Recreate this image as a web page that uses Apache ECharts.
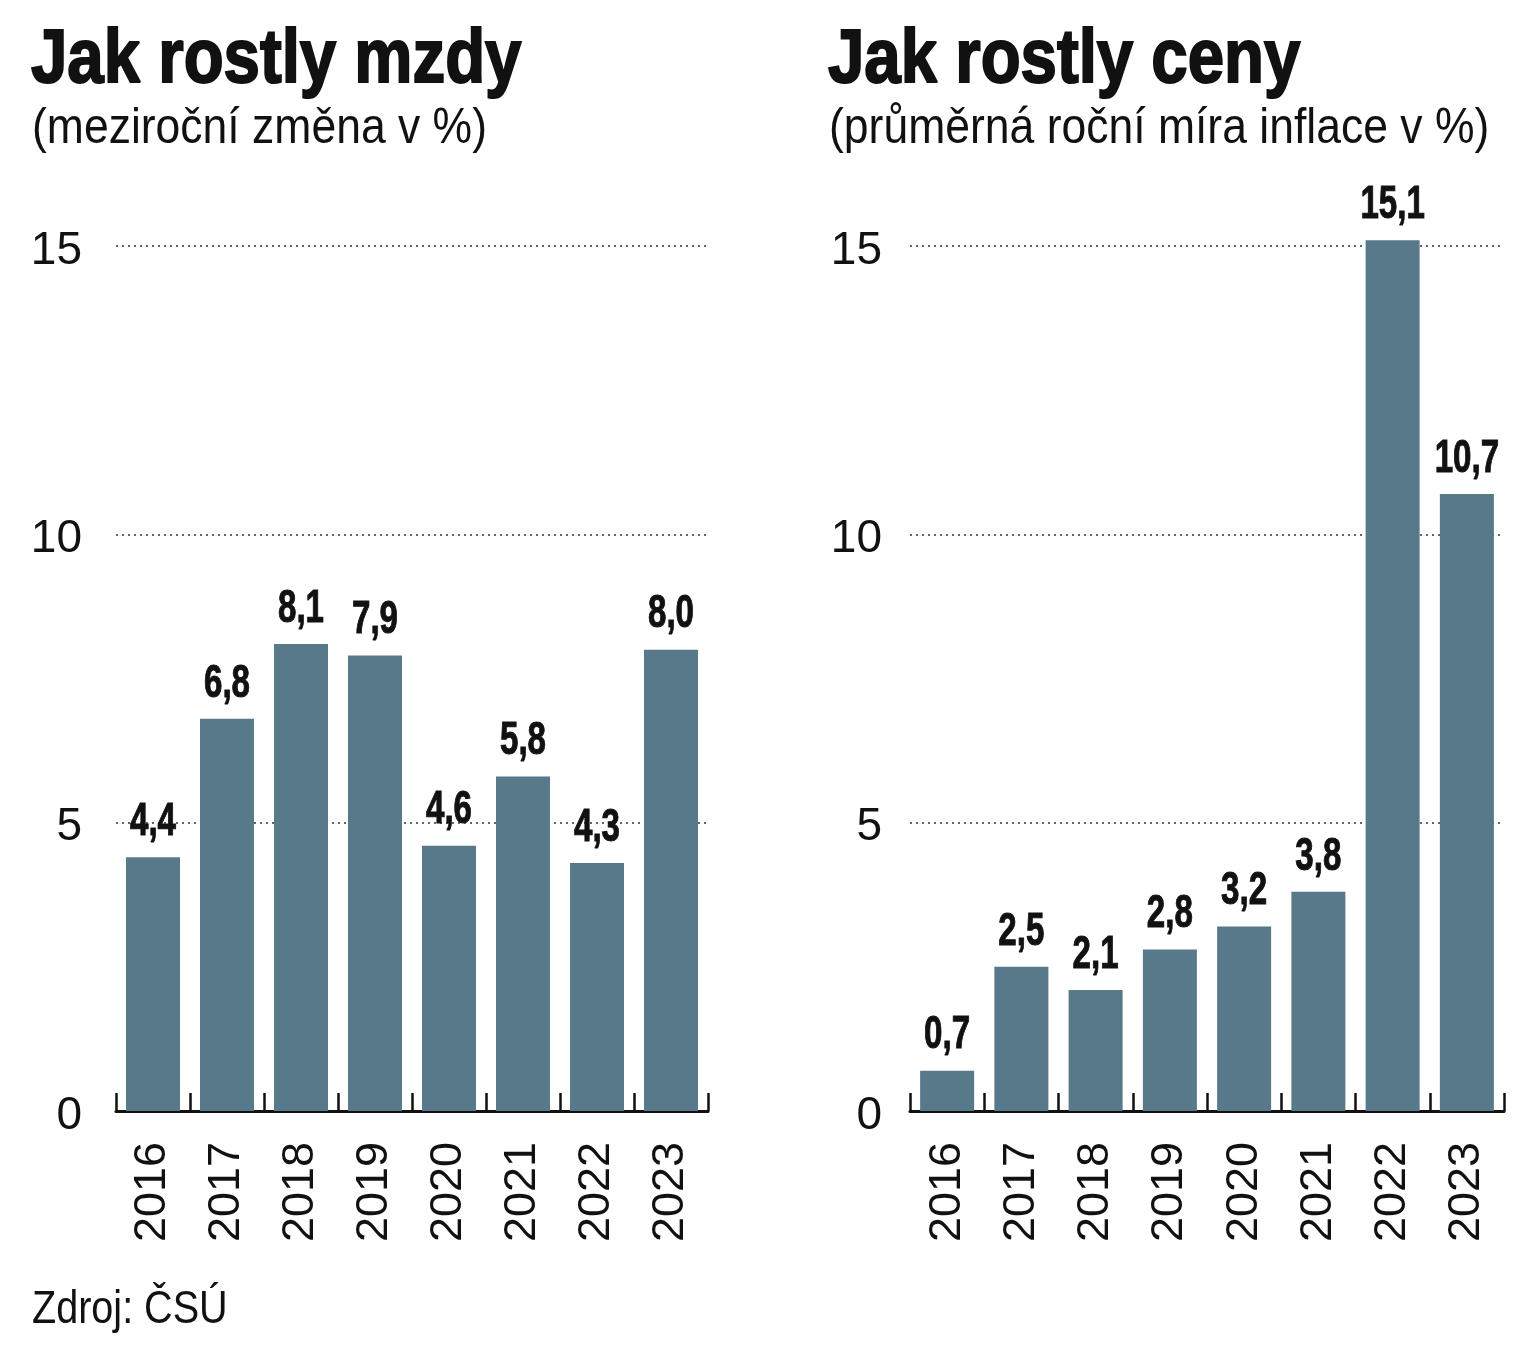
<!DOCTYPE html>
<html>
<head>
<meta charset="utf-8">
<script src="https://cdn.jsdelivr.net/npm/echarts@6/dist/echarts.min.js"></script>
<style>
html,body{margin:0;padding:0;background:#fff;}
#c{width:1536px;height:1360px;}
</style>
</head>
<body>
<div id="c"></div>
<script>
const years = ['2016','2017','2018','2019','2020','2021','2022','2023'];
const wages = [4.4, 6.8, 8.1, 7.9, 4.6, 5.8, 4.3, 8.0];
const prices = [0.7, 2.5, 2.1, 2.8, 3.2, 3.8, 15.1, 10.7];
const yTicks = [0, 5, 10, 15];

const titleLeft = 'Jak rostly mzdy';
const subLeft = '(meziroční změna v %)';
const titleRight = 'Jak rostly ceny';
const subRight = '(průměrná roční míra inflace v %)';
const source = 'Zdroj: ČSÚ';

const FONT = '"Liberation Sans", Arial, Helvetica, sans-serif';
const BAR = '#587989';
const INK = '#111';

const chart = echarts.init(document.getElementById('c'), null, {renderer: 'canvas'});

function xAxis(gi) {
  return {
    type: 'category', gridIndex: gi, data: years,
    axisLine: {show: true, lineStyle: {color: INK, width: 3}},
    axisTick: {show: true, inside: true, length: 18, lineStyle: {color: INK, width: 2.5}},
    axisLabel: {rotate: 90, margin: 31, fontFamily: FONT, fontSize: 45, color: INK}
  };
}
function yAxis(gi, margin) {
  return {
    type: 'value', gridIndex: gi, min: 0, max: 15, interval: 5,
    axisLine: {show: false}, axisTick: {show: false},
    axisLabel: {margin: margin, fontFamily: FONT, fontSize: 46, color: INK,
      verticalAlign: 'top', lineHeight: 10,
      formatter: v => yTicks.includes(v) ? String(v) : ''},
    splitLine: {show: true, lineStyle: {color: '#333', width: 1.5, type: [2, 4]}}
  };
}
function barSeries(i, data) {
  return {
    type: 'bar', xAxisIndex: i, yAxisIndex: i, data: data, barWidth: 54, clip: false,
    itemStyle: {color: BAR}, z: 2
  };
}
function labelSeries(i, data) {
  return {
    type: 'custom', xAxisIndex: i, yAxisIndex: i, clip: false, z: 5,
    data: data.map((v, k) => [k, v]),
    encode: {x: 0, y: 1},
    renderItem: function (params, api) {
      const v = api.value(1);
      const pt = api.coord([api.value(0), v]);
      return {
        type: 'text', x: pt[0], y: pt[1] - 12, scaleX: 0.72,
        style: {
          text: v.toFixed(1).replace('.', ','),
          font: 'bold 46px ' + FONT, fill: INK, stroke: INK, lineWidth: 1,
          align: 'center', verticalAlign: 'bottom'
        }
      };
    }
  };
}
function txt(text, x, y, size, weight, sx, sw) {
  const st = {text: text, font: weight + ' ' + size + 'px ' + FONT, fill: INK, align: 'left', verticalAlign: 'top'};
  if (sw) { st.stroke = INK; st.lineWidth = sw; }
  return {type: 'text', x: x, y: y, scaleX: sx, style: st};
}

chart.setOption({
  animation: false,
  backgroundColor: '#fff',
  graphic: [
    txt(titleLeft, 31, 23, 76, 'bold', 0.86, 2),
    txt(subLeft, 32, 104, 50, 'normal', 0.89),
    txt(titleRight, 828, 23, 76, 'bold', 0.86, 2),
    txt(subRight, 829, 104, 50, 'normal', 0.89),
    txt(source, 32, 1287, 46, 'normal', 0.86)
  ],
  grid: [
    {left: 116, top: 246, width: 592, height: 865, containLabel: false},
    {left: 910, top: 246, width: 594, height: 865, containLabel: false}
  ],
  xAxis: [xAxis(0), xAxis(1)],
  yAxis: [yAxis(0, 34), yAxis(1, 28)],
  series: [barSeries(0, wages), barSeries(1, prices), labelSeries(0, wages), labelSeries(1, prices)]
});
</script>
</body>
</html>
